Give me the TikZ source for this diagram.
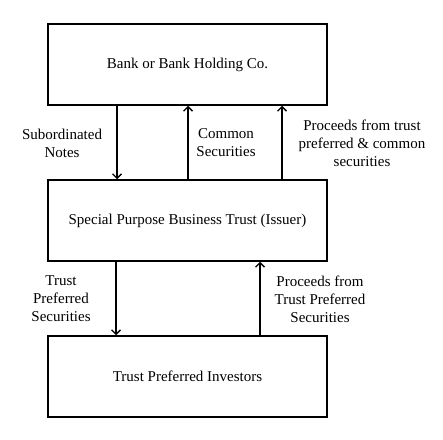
\documentclass[tikz,border=0pt]{standalone}
\usepackage{fontspec}
\setmainfont{Liberation Serif}
\usetikzlibrary{arrows.meta, positioning}

\begin{document}
\begin{tikzpicture}[
    x=1pt, y=1pt,
    entity/.style={draw, line width=1.5pt, minimum width=279pt, minimum height=81pt, inner sep=0pt, font=\fontsize{15}{18}\selectfont},
    flow/.style={align=center, inner sep=0pt, font=\fontsize{15}{18}\selectfont},
    pay/.style={draw, line width=1.3pt, -{Straight Barb[length=4.5pt, width=9pt]}}
]
\useasboundingbox (0,0) rectangle (443,439);
\node[entity] (bank) at (187.5,374.5) {Bank or Bank Holding Co.};
\node[entity] (trust) at (187.5,218.5) {Special Purpose Business Trust (Issuer)};
\node[entity] (investors) at (187.5,62.5) {Trust Preferred Investors};

% bank <-> trust
\draw[pay] ([xshift=-70.5pt]bank.south) -- ([xshift=-70.5pt]trust.north);
\draw[pay] ([xshift=0.5pt]trust.north) -- ([xshift=0.5pt]bank.south);
\draw[pay] ([xshift=94.5pt]trust.north) -- ([xshift=94.5pt]bank.south);
\node[flow] (notes) at (62,296) {Subordinated\\Notes};
\node[flow] (common) at (226,296) {Common\\Securities};
\node[flow] (proceeds) at (362,296) {Proceeds from trust\\preferred \& common\\securities};

% trust <-> investors
\draw[pay] ([xshift=-71.5pt]trust.south) -- ([xshift=-71.5pt]investors.north);
\draw[pay] ([xshift=72.5pt]investors.north) -- ([xshift=72.5pt]trust.south);
\node[flow] (tps) at (61,140) {Trust\\Preferred\\Securities};
\node[flow] (tpsproceeds) at (320,140) {Proceeds from\\Trust Preferred\\Securities};
\end{tikzpicture}
\end{document}
